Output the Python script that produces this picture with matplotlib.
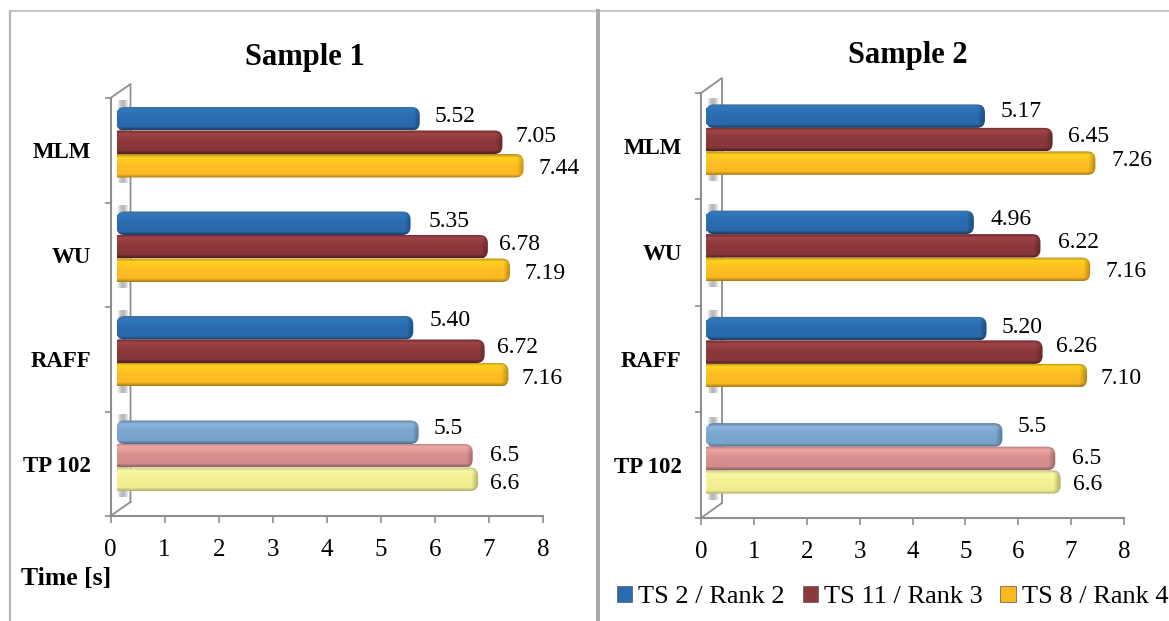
import matplotlib
matplotlib.use("Agg")
import matplotlib.pyplot as plt
import numpy as np
from matplotlib.patches import FancyBboxPatch, Patch

plt.rcParams["font.family"] = ["Liberation Serif", "DejaVu Serif"]

W, H = 1169, 621

categories = ["TP 102", "RAFF", "WU", "MLM"]
series_names = ["TS 2 / Rank 2", "TS 11 / Rank 3", "TS 8 / Rank 4"]

# sample 1, values from bottom group to top group
s1_ts2 = [5.5, 5.40, 5.35, 5.52]
s1_ts11 = [6.5, 6.72, 6.78, 7.05]
s1_ts8 = [6.6, 7.16, 7.19, 7.44]
s1_labels = [
    ["5.5", "5.40", "5.35", "5.52"],
    ["6.5", "6.72", "6.78", "7.05"],
    ["6.6", "7.16", "7.19", "7.44"],
]

# sample 2
s2_ts2 = [5.5, 5.20, 4.96, 5.17]
s2_ts11 = [6.5, 6.26, 6.22, 6.45]
s2_ts8 = [6.6, 7.10, 7.16, 7.26]
s2_labels = [
    ["5.5", "5.20", "4.96", "5.17"],
    ["6.5", "6.26", "6.22", "6.45"],
    ["6.6", "7.10", "7.16", "7.26"],
]

x_ticks = list(range(9))

# hand placed value labels, pixels right of the bar end / above the bar centre
s1_gap = [[15, 16, 18, 15], [17, 12, 11, 13], [12, 13, 14, 15]]
s1_lift = [[4, 7, 2, 2], [0, 4, 2, 6], [-4, -4, -3, -3]]
s2_gap = [[15, 15, 17, 16], [17, 13, 18, 15], [12, 14, 15, 16]]
s2_lift = [[8, 1, 3, 5], [0, 6, 3, 3], [-3, -3, -2, 3]]

# vertical shading stops: top edge, highlight, body, lower body, bottom edge
dark_shades = [
    ["#3f709f", "#2f78bd", "#2b6cb0", "#2a69aa", "#1c3d60"],
    ["#6e2a2e", "#a04448", "#8c383c", "#873639", "#4f1f22"],
    ["#b88d1c", "#ffd21f", "#fdbf24", "#fbb920", "#a87f1a"],
]
light_shades = [
    ["#5f7f9f", "#8cb4dc", "#7ba6d0", "#78a2cc", "#4f6c88"],
    ["#b07c7c", "#f0a8a6", "#d89090", "#d48c8c", "#8f6464"],
    ["#c4c480", "#f8f8a4", "#f4f094", "#f0ec90", "#b4b474"],
]
legend_colors = ["#2b6cb0", "#8c383c", "#fbb920"]
axis_grey = "#8e8e8e"


def shaded_image(stops, n_rows, n_cols, bevel_cols):
    pos = [0, 0.14, 0.45, 0.86, 1]
    rgb = np.array([matplotlib.colors.to_rgb(c) for c in stops])
    rows = np.stack([np.interp(np.linspace(0, 1, n_rows), pos, rgb[:, i]) for i in range(3)], axis=1)
    img = np.repeat(rows[:, None, :], n_cols, axis=1)
    # darker end cap on the right, fades in over a few pixels
    fade = np.linspace(1, 0.72, bevel_cols)[None, :, None]
    img[:, -bevel_cols:, :] *= fade
    return img


def draw_bar(ax, y, value, h, left, cap, stops, px_x, px_y, round_left):
    end = value + cap
    ax.barh(y, value, height=h * 0.7, left=left, color=stops[2], zorder=3)
    # only the blue bar keeps its rounded corner on the wall side
    box_left = left if round_left else left - 12 / px_x
    box = FancyBboxPatch(
        (box_left, y - h / 2), end - box_left, h,
        boxstyle=f"round,pad=0,rounding_size={8 / px_x}",
        mutation_aspect=px_x / px_y,
        facecolor="none", edgecolor="none", zorder=4,
    )
    ax.add_patch(box)
    n_cols = max(int((end - left) * px_x), 10)
    img = shaded_image(stops, 30, n_cols, 8)
    im = ax.imshow(img, extent=(left, end, y - h / 2, y + h / 2), aspect="auto", zorder=4, interpolation="bilinear")
    im.set_clip_path(box)


def draw_wall(ax, px_x, px_y, dx_px, dy_px):
    dx, dy = dx_px / px_x, dy_px / px_y
    ax.plot([0, dx, dx], [4, 4 + dy, dy], color=axis_grey, lw=1.3, clip_on=False, zorder=2)
    ax.plot([0, dx], [0, dy], color=axis_grey, lw=1.3, clip_on=False, zorder=2)


def draw_shadow(ax, y, half, px_x, px_y):
    # soft grey smudge on the wall behind each group
    grad = np.zeros((1, 20, 4))
    grad[..., :3] = 0.5
    grad[0, :, 3] = np.sin(np.linspace(0, np.pi, 20)) * 0.55
    ax.imshow(grad, extent=(6 / px_x, 18 / px_x, y - half - 6 / px_y, y + half + 6 / px_y),
              aspect="auto", zorder=1, interpolation="bilinear")


def draw_panel(box, title, title_xy, series, labels, gaps, lifts, bar_dy, dx_px, dy_px, left_px, xtick_pad, ylabel_pad):
    x0, y_top, x1, y_bot = box
    ax = fig.add_axes([x0 / W, 1 - y_bot / H, (x1 - x0) / W, (y_bot - y_top) / H])
    px_x = (x1 - x0) / 8
    px_y = (y_bot - y_top) / 4
    h = 23.5 / px_y
    left = left_px / px_x
    cap = 0.2

    for i in range(len(categories)):
        yc = i + 0.5 + bar_dy / px_y
        draw_shadow(ax, yc, 1.5 * h, px_x, px_y)
        for k in range(3):
            yb = yc + (1 - k) * h
            stops = (light_shades if i == 0 else dark_shades)[k]
            val = series[k][i]
            draw_bar(ax, yb, val, h, left, cap, stops, px_x, px_y, k == 0)
            ax.annotate(labels[k][i], (val + cap, yb), xytext=(gaps[k][i] * 0.72, lifts[k][i] * 0.72),
                        textcoords="offset points", ha="left", va="center", fontsize=17, zorder=5)

    draw_wall(ax, px_x, px_y, dx_px, dy_px)
    ax.set_xlim(0, 8)
    ax.set_ylim(0, 4)
    ax.patch.set_alpha(0)
    for name in ["top", "right"]:
        ax.spines[name].set_visible(False)
    for name in ["left", "bottom"]:
        ax.spines[name].set_color(axis_grey)
        ax.spines[name].set_linewidth(1.5)
    ax.set_xticks(x_ticks)
    ax.set_xticklabels([str(t) for t in x_ticks], fontsize=18)
    ax.tick_params(axis="x", length=5, width=1.2, color=axis_grey, pad=xtick_pad)
    ax.set_yticks(range(5))
    ax.set_yticklabels([])
    ax.tick_params(axis="y", which="major", length=4, width=1.2, color=axis_grey)
    ax.set_yticks([i + 0.5 for i in range(4)], minor=True)
    ax.set_yticklabels(categories, minor=True, fontsize=16.5, fontweight="bold")
    ax.tick_params(axis="y", which="minor", length=0, pad=ylabel_pad)
    fig.text(title_xy[0] / W, 1 - title_xy[1] / H, title, fontsize=22, fontweight="bold", ha="center", va="center")
    return ax


fig = plt.figure(figsize=(W / 100, H / 100), dpi=100)

# panel frame lines
frame = fig.add_axes([0, 0, 1, 1])
frame.set_xlim(0, W)
frame.set_ylim(H, 0)
frame.axis("off")
frame.plot([10, W], [11, 11], color="#c9c9c9", lw=1.6)
frame.plot([10, 10], [11, H], color="#b4b4b4", lw=1.6)
frame.plot([598, 598], [11, H], color="#a6a8a8", lw=2.8)

draw_panel((110.5, 98, 543, 516), "Sample 1", (305, 57), [s1_ts2, s1_ts11, s1_ts8], s1_labels,
           s1_gap, s1_lift, 8, 20, 14, 6, 11.4, 14)
draw_panel((701, 93, 1124, 518), "Sample 2", (908, 56), [s2_ts2, s2_ts11, s2_ts8], s2_labels,
           s2_gap, s2_lift, 6.5, 21, 15, 5, 11.4, 14)

fig.text(21 / W, 1 - 579 / H, "Time [s]", fontsize=18.5, fontweight="bold", ha="left", va="center")

handles = [Patch(facecolor=c, edgecolor="#555555", linewidth=0.5) for c in legend_colors]
fig.legend(handles, series_names, ncol=3, frameon=False, fontsize=19, loc="center right",
           bbox_to_anchor=(1168 / W, 1 - 597 / H), borderaxespad=0, borderpad=0,
           handlelength=0.58, handleheight=0.55, handletextpad=0.22, columnspacing=0.68)

fig.savefig("out.png", dpi=100)
